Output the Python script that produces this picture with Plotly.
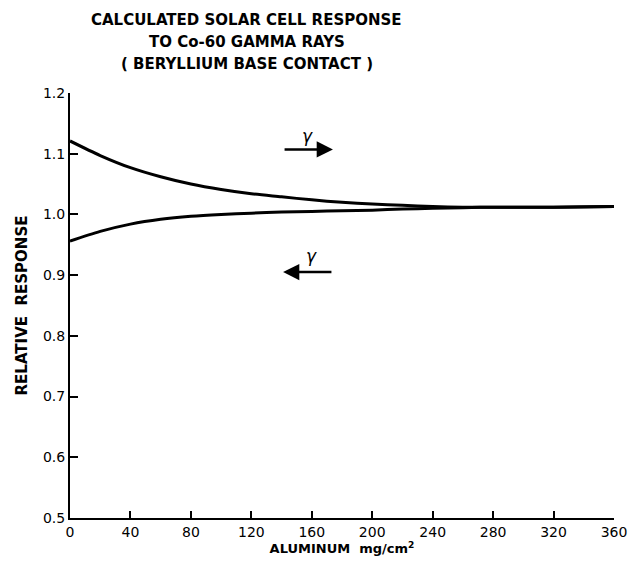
import plotly.graph_objects as go

# aluminum absorber thickness, mg/cm^2
aluminum = [0, 20, 40, 60, 80, 100, 120, 140, 160, 180, 200, 220, 240, 260, 280, 320, 360]
# gamma rays entering from the front (upper curve) and from the back (lower curve)
resp_front = [1.121, 1.097, 1.077, 1.062, 1.050, 1.041, 1.034, 1.029, 1.024, 1.020,
              1.017, 1.015, 1.013, 1.012, 1.012, 1.012, 1.013]
resp_back = [0.956, 0.972, 0.984, 0.992, 0.997, 1.000, 1.002, 1.004, 1.005, 1.006,
             1.007, 1.009, 1.010, 1.011, 1.012, 1.012, 1.013]

x_ticks = [0, 40, 80, 120, 160, 200, 240, 280, 320, 360]
y_ticks = [0.5, 0.6, 0.7, 0.8, 0.9, 1.0, 1.1, 1.2]

title_lines = ["CALCULATED SOLAR CELL RESPONSE", "TO Co-60 GAMMA RAYS",
               "( BERYLLIUM BASE CONTACT )"]

font_main = "DejaVu Sans, Verdana, sans-serif"

fig = go.Figure()
for ys in (resp_front, resp_back):
    fig.add_trace(go.Scatter(
        x=aluminum, y=ys, mode="lines",
        line=dict(color="black", width=3, shape="spline", smoothing=0.8),
        showlegend=False,
    ))

# gamma direction arrows
arrows = [
    # (tail x, head x, y, label x, label y)
    (141, 174, 1.107, 157, 1.130),
    (174, 141, 0.905, 160, 0.932),
]
for tx, hx, yy, lx, ly in arrows:
    fig.add_annotation(
        x=hx, y=yy, ax=tx, ay=yy, xref="x", yref="y", axref="x", ayref="y",
        text="", showarrow=True, arrowhead=2, arrowsize=1.3, arrowwidth=2.5,
        arrowcolor="black",
    )
    fig.add_annotation(
        x=lx, y=ly, xref="x", yref="y", text="<i>γ</i>", showarrow=False,
        font=dict(family=font_main, size=17, color="black"),
    )

# three-line heading, placed by hand left of the plot centre
for line, yy in zip(title_lines, [1.171, 1.119, 1.069]):
    fig.add_annotation(
        x=0.325, y=yy, xref="paper", yref="paper", text="<b>" + line + "</b>",
        showarrow=False, xanchor="center", yanchor="middle",
        font=dict(family=font_main, size=15, color="black"),
    )

fig.update_layout(
    width=634, height=557,
    margin=dict(l=62, r=28, t=85, b=45),
    paper_bgcolor="white", plot_bgcolor="white",
    xaxis=dict(
        range=[0, 360], tickvals=x_ticks, ticks="inside", ticklen=7, tickwidth=1.5,
        tickcolor="black", showline=True, linecolor="black", linewidth=2,
        showgrid=False, zeroline=False,
        tickfont=dict(family=font_main, size=14, color="black"),
        title=dict(text="<b>ALUMINUM  mg/cm<sup>2</sup></b>", standoff=4,
                   font=dict(family=font_main, size=13, color="black")),
    ),
    yaxis=dict(
        range=[0.5, 1.2], tickvals=y_ticks, tickformat=".1f", ticks="inside",
        ticklen=8, tickwidth=1.5, tickcolor="black", showline=True,
        linecolor="black", linewidth=2, showgrid=False, zeroline=False,
        tickfont=dict(family=font_main, size=14, color="black"),
        title=dict(text="<b>RELATIVE  RESPONSE</b>", standoff=12,
                   font=dict(family=font_main, size=15, color="black")),
    ),
)

fig.write_html("out.html")
